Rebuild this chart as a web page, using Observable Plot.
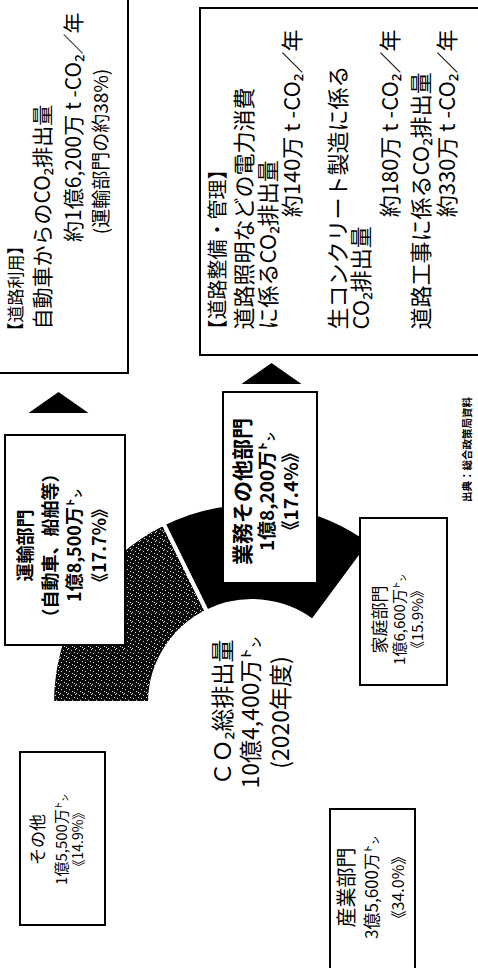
<!DOCTYPE html>
<html><head><meta charset="utf-8">
<script src="https://cdn.jsdelivr.net/npm/d3@7"></script>
<script src="https://cdn.jsdelivr.net/npm/@observablehq/plot@0.6"></script>
<style>
html,body{margin:0;padding:0;background:#fff;overflow:hidden;width:478px;height:968px;}
#wrap{position:absolute;left:0;top:0;width:968px;height:478px;transform-origin:0 0;transform:translate(0,968px) rotate(-90deg);}
</style></head><body><div id="wrap"></div>
<script>
// ---- data ----
const sectors = ["運輸部門", "業務その他部門", "家庭部門", "産業部門", "その他"];
const sectorNotes = ["（自動車、船舶等）", "", "", "", ""];
const emissions = ["1億8,500万㌧", "1億8,200万㌧", "1億6,600万㌧", "3億5,600万㌧", "1億5,500万㌧"];
const shares = [17.7, 17.4, 15.9, 34.0, 14.9];
const totalLines = ["ＣＯ₂総排出量", "10億4,400万㌧", "(2020年度)"];
const roadUseLines = ["【道路利用】", "自動車からのCO₂排出量", "約1億6,200万 t -CO₂／年", "(運輸部門の約38%)"];
const roadMgmtLines = ["【道路整備・管理】", "道路照明などの電力消費", "に係るCO₂排出量", "約140万 t -CO₂／年",
  "生コンクリート製造に係る", "CO₂排出量", "約180万 t -CO₂／年", "道路工事に係るCO₂排出量", "約330万 t -CO₂／年"];
const sourceNote = "出典：総合政策局資料";

// ---- layout (landscape coordinates; page is rotated) ----
const W = 968, H = 478;
const donutCenter = [265, 252], innerR = 102, outerR = 200;
const sectorFill = ["url(#speckle)", "#000", "none", "none", "none"];
const boxes = [
  {x1: 595, x2: 1000, y1: -10, y2: 128},
  {x1: 613, x2: 960, y1: 200, y2: 500},
  {x1: 323, x2: 533, y1: 5, y2: 125},
  {x1: 385, x2: 576, y1: 223, y2: 317},
  {x1: 283, x2: 450, y1: 360, y2: 447},
  {x1: 43, x2: 216, y1: 20, y2: 105},
  {x1: -10, x2: 159, y1: 330, y2: 415}
];
const arrows = [{x: 565, y: 58}, {x: 594, y: 271}];

// label layouts
const roadUsePos = [
  {x: 628, y: 16, a: "start", s: 17}, {x: 638, y: 43, a: "start", s: 21},
  {x: 955, y: 74, a: "end", s: 21}, {x: 816, y: 101, a: "middle", s: 19}];
const roadMgmtPos = [
  {x: 628, y: 218, a: "start", s: 20}, {x: 638, y: 244, a: "start", s: 22}, {x: 638, y: 268, a: "start", s: 22},
  {x: 938, y: 292, a: "end", s: 22}, {x: 638, y: 338, a: "start", s: 22}, {x: 638, y: 361, a: "start", s: 22},
  {x: 938, y: 390, a: "end", s: 22}, {x: 638, y: 421, a: "start", s: 22}, {x: 938, y: 447, a: "end", s: 22}];

const sectorLabelPos = [
  {x: 422, ys: [26, 51, 75, 100], s: [18, 18, 18, 18], bold: true},
  {x: 476, ys: [243, 267, 291], s: [21, 19, 19], bold: true},
  {x: 348, ys: [380, 400, 418], s: [17, 15, 15], bold: false},
  {x: 80, ys: [347, 372, 398], s: [20, 17, 16], bold: false},
  {x: 128, ys: [38, 62, 78], s: [17, 15, 14], bold: false}
];

// build sector label rows from data
const sectorRows = [];
sectors.forEach((name, i) => {
  const p = sectorLabelPos[i];
  const lines = [name];
  if (sectorNotes[i]) lines.push(sectorNotes[i]);
  lines.push(emissions[i]);
  lines.push("《" + shares[i].toFixed(1) + "%》");
  lines.forEach((t, j) => sectorRows.push({t, x: p.x, y: p.ys[j], s: p.s[j], bold: p.bold}));
});
const totalRows = totalLines.map((t, i) => ({t, x: 255, y: [223, 251, 281][i]}));
const roadUseRows = roadUseLines.map((t, i) => ({t, ...roadUsePos[i]}));
const roadMgmtRows = roadMgmtLines.map((t, i) => ({t, ...roadMgmtPos[i]}));

// ---- donut mark ----
const pieTable = sectors.map((s, i) => ({sector: s, share: shares[i], fill: sectorFill[i]}));
function donut(index, scales) {
  const cx = scales.x(donutCenter[0]), cy = scales.y(donutCenter[1]);
  const g = d3.create("svg:g");
  const pat = g.append("defs").append("pattern").attr("id", "speckle")
    .attr("patternUnits", "userSpaceOnUse").attr("width", 9).attr("height", 8);
  pat.append("rect").attr("width", 9).attr("height", 8).attr("fill", "#0a0a0a");
  [[0,0],[4,1],[7,3],[2,4],[5,6],[8,7],[1,6]].forEach(([a, b]) =>
    pat.append("rect").attr("x", a).attr("y", b).attr("width", 1).attr("height", 1).attr("fill", "#dcdcdc"));
  const arcs = d3.pie().sort(null).value(d => d.share)(pieTable);
  const arc = d3.arc().innerRadius(innerR).outerRadius(outerR);
  g.append("g").attr("transform", `translate(${cx},${cy})`)
    .selectAll("path").data(arcs).join("path")
    .attr("d", arc)
    .attr("fill", d => d.data.fill)
    .attr("stroke", d => d.data.fill === "none" ? "none" : "#fff")
    .attr("stroke-width", 4)
    .attr("stroke-linejoin", "miter");
  return g.node();
}

const flatTriangle = {
  draw(ctx, size) {
    const r = Math.sqrt(size / Math.PI);
    ctx.moveTo(1.05 * r, 0);
    ctx.lineTo(-1.05 * r, -3 * r);
    ctx.lineTo(-1.05 * r, 3 * r);
    ctx.closePath();
  }
};

const font = "'Noto Sans CJK JP', 'Noto Sans', sans-serif";
const textMarks = [];
roadUseRows.forEach(d => textMarks.push(Plot.text([d], {x: "x", y: "y", text: "t", textAnchor: d.a, fontSize: d.s, fill: "#000"})));
roadMgmtRows.forEach(d => textMarks.push(Plot.text([d], {x: "x", y: "y", text: "t", textAnchor: d.a, fontSize: d.s, fill: "#000"})));
textMarks.push(Plot.text(sectorRows.filter(d => d.bold), {x: "x", y: "y", text: "t", fontSize: "s", fontWeight: "bold", fill: "#000"}));
textMarks.push(Plot.text(sectorRows.filter(d => !d.bold), {x: "x", y: "y", text: "t", fontSize: "s", fill: "#000"}));
textMarks.push(Plot.text(totalRows, {x: "x", y: "y", text: "t", fontSize: 23, fill: "#000"}));
textMarks.push(Plot.text([{t: sourceNote, x: 518, y: 467}], {x: "x", y: "y", text: "t", fontSize: 10.5, fontWeight: "bold", fill: "#000"}));

const chart = Plot.plot({
  width: W, height: H, margin: 0,
  x: {domain: [0, W], range: [0, W], axis: null},
  y: {domain: [0, H], range: [0, H], axis: null},
  style: {fontFamily: font, background: "#fff", overflow: "hidden"},
  marks: [
    donut,
    Plot.rect(boxes, {x1: "x1", x2: "x2", y1: "y1", y2: "y2", fill: "#fff", stroke: "#000", strokeWidth: 2}),
    Plot.dot(arrows, {x: "x", y: "y", r: 10, symbol: flatTriangle, fill: "#000", stroke: "none"}),
    ...textMarks
  ]
});
document.getElementById("wrap").appendChild(chart);
</script></body></html>
